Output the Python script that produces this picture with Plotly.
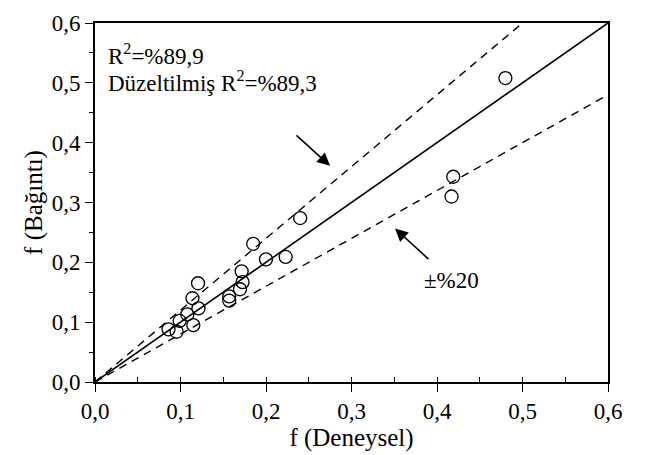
import plotly.graph_objects as go

# Data
f_deneysel = [0.480, 0.419, 0.417, 0.240, 0.185, 0.200, 0.223, 0.1205, 0.114, 0.121,
              0.108, 0.099, 0.115, 0.086, 0.0955, 0.1715, 0.1726, 0.1696, 0.157, 0.157]
f_baginti = [0.508, 0.343, 0.310, 0.274, 0.231, 0.205, 0.209, 0.165, 0.140, 0.123,
             0.113, 0.102, 0.095, 0.088, 0.084, 0.185, 0.167, 0.155, 0.143, 0.136]

line_x = [0.0, 0.6]
band_factor = 0.20
tick_vals = [0.0, 0.1, 0.2, 0.3, 0.4, 0.5, 0.6]

FONT = "Liberation Serif"

fig = go.Figure()

# 1:1 line
fig.add_trace(go.Scatter(x=line_x, y=line_x, mode="lines",
                         line=dict(color="black", width=1.6), showlegend=False))
# +20% / -20% lines
fig.add_trace(go.Scatter(x=line_x, y=[v * (1 + band_factor) for v in line_x], mode="lines",
                         line=dict(color="black", width=1.4, dash="8px,6px"), showlegend=False))
fig.add_trace(go.Scatter(x=line_x, y=[v * (1 - band_factor) for v in line_x], mode="lines",
                         line=dict(color="black", width=1.4, dash="8px,6px"), showlegend=False))

# data points
fig.add_trace(go.Scatter(x=f_deneysel, y=f_baginti, mode="markers",
                         marker=dict(symbol="circle-open", size=13, color="black",
                                     line=dict(width=1.3, color="black")),
                         showlegend=False))

# arrows
fig.add_annotation(x=0.2749, y=0.3613, ax=0.2339, ay=0.4145, xref="x", yref="y",
                   axref="x", ayref="y", showarrow=True, arrowhead=2, arrowsize=1.6,
                   arrowwidth=1.6, arrowcolor="black", text="")
fig.add_annotation(x=0.3509, y=0.2565, ax=0.3918, ay=0.2032, xref="x", yref="y",
                   axref="x", ayref="y", showarrow=True, arrowhead=2, arrowsize=1.6,
                   arrowwidth=1.6, arrowcolor="black", text="")

# texts
fig.add_annotation(x=0.013, y=0.548, xref="x", yref="y", xanchor="left", yanchor="middle",
                   text="R<sup>2</sup>=%89,9", showarrow=False,
                   font=dict(family=FONT, size=23, color="black"))
fig.add_annotation(x=0.013, y=0.5016, xref="x", yref="y", xanchor="left", yanchor="middle",
                   text="Düzeltilmiş R<sup>2</sup>=%89,3", showarrow=False,
                   font=dict(family=FONT, size=23, color="black"))
fig.add_annotation(x=0.4175, y=0.169, xref="x", yref="y", xanchor="center", yanchor="middle",
                   text="±%20", showarrow=False,
                   font=dict(family=FONT, size=23, color="black"))

axis_common = dict(
    range=[0, 0.6], tickvals=tick_vals, tickformat=".1f",
    showgrid=False, zeroline=False, showline=True, linecolor="black", linewidth=1.6,
    mirror=True, ticks="outside", ticklen=8, tickwidth=1.4, tickcolor="black",
    tickfont=dict(family=FONT, size=23, color="black"),
)

fig.update_xaxes(**axis_common,
                 minor=dict(dtick=0.05, ticks="inside", ticklen=5, tickwidth=1.2, tickcolor="black"),
                 title=dict(text="f (Deneysel)", font=dict(family=FONT, size=25, color="black"),
                            standoff=2))
fig.update_yaxes(**axis_common,
                 minor=dict(dtick=0.05, ticks="outside", ticklen=4, tickwidth=1.2, tickcolor="black"),
                 title=dict(text="f (Bağıntı)", font=dict(family=FONT, size=25, color="black"),
                            standoff=2))

fig.update_layout(
    width=649, height=455,
    margin=dict(l=95, r=41, t=11, b=72),
    paper_bgcolor="white", plot_bgcolor="white",
    separators=",.",
    font=dict(family=FONT, color="black"),
)

fig.write_html("out.html")
